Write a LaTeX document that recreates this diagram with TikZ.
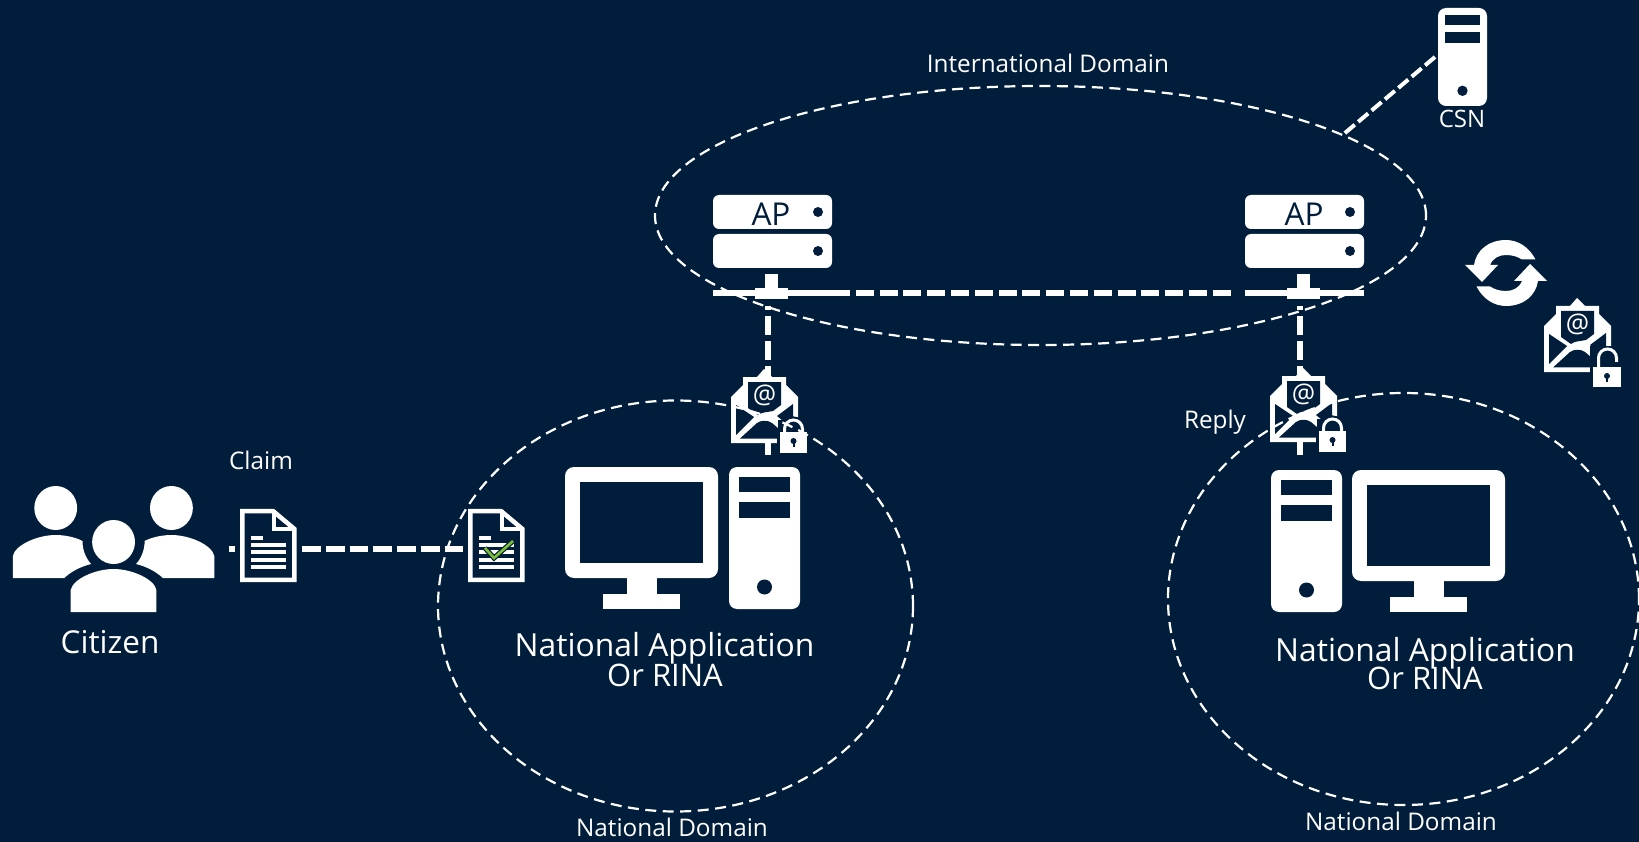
\documentclass[tikz,border=0pt]{standalone}
\usepackage{fontspec}
\setmainfont{Open Sans}
\usetikzlibrary{shapes.geometric}
\definecolor{bgc}{HTML}{001E3C}
\definecolor{chk}{HTML}{7DBE32}
\newcommand{\fsz}[1]{\fontsize{#1}{#1}\selectfont}
\tikzset{
  txtlbl/.style={text=white,inner sep=0pt,anchor=base},
  domainring/.style={ellipse,draw=white,line width=2.2pt,dash pattern=on 11pt off 6.5pt,inner sep=0pt,fill=none},
  thicklink/.style={draw=white,line width=6pt},
  hlink/.style={thicklink,dash pattern=on 18pt off 5.8pt},
  vlink/.style={thicklink,dash pattern=on 19pt off 6pt,dash phase=15pt},
  clink/.style={thicklink,dash pattern=on 18.75pt off 5pt},
  csnlink/.style={draw=white,line width=4pt,dash pattern=on 13pt off 4.5pt},
  monitor/.pic={
    \fill[white,rounded corners=9pt] (0,0) rectangle (153,111);
    \fill[bgc] (15,15) rectangle (138,96);
    \fill[white] (62,105) rectangle (92,130);
    \fill[white] (38,127) rectangle (115,142);
  },
  tower/.pic={
    \fill[white,rounded corners=8pt] (0,0) rectangle (71,142);
    \fill[bgc] (10,10) rectangle (61,25);
    \fill[bgc] (10,35) rectangle (61,51);
    \fill[bgc] (35.5,120) circle (7.5);
  },
  apbox/.pic={
    \fill[white,rounded corners=6pt] (0,0) rectangle (119,34);
    \fill[white,rounded corners=6pt] (0,39) rectangle (119,73);
    \fill[bgc] (105,17) circle (5);
    \fill[bgc] (105,56) circle (5);
    \fill[white] (0,95) rectangle (119,101);
    \fill[white] (#1,79) rectangle ++(13,14);
    \fill[white] (#1-10,93) rectangle ++(33,11);
  },
  docu/.pic={
    \fill[bgc] (0,0) -- (32,0) -- (53,19) -- (53,73) -- (0,73) -- cycle;
    \draw[white,line width=4.5pt,miter limit=3] (2.2,2.2) -- (31,2.2) -- (50.8,20) -- (50.8,70.8) -- (2.2,70.8) -- cycle;
    \draw[white,line width=4.2pt] (32,1) -- (32,20) -- (52,20);
    \fill[white] (10,27) rectangle (21,31);
    \foreach \yy in {34,41,49,56}{\fill[white] (10,\yy) rectangle (43,\yy+4);}
  },
  lockclosed/.pic={
    \draw[bgc,line width=7pt] (53.5,66) -- (53.5,60) arc[start angle=180,end angle=360,radius=9] -- (71.5,66);
    \fill[bgc] (46,61) rectangle (79,87);
    \draw[white,line width=3pt] (53.5,66) -- (53.5,60) arc[start angle=180,end angle=360,radius=9] -- (71.5,66);
    \fill[white] (49,63) rectangle (76,84);
    \fill[bgc] (62.5,72) circle (3);
    \fill[bgc] (61.5,72) rectangle (63.5,78);
  },
  lockopen/.pic={
    \fill[bgc] (46,48) rectangle (80,90);
    \draw[white,line width=3pt] (54.5,70) -- (54.5,60) arc[start angle=180,end angle=360,radius=9] -- (72.5,64);
    \fill[white] (49,69) rectangle (77,89);
    \fill[bgc] (63,78) circle (3);
    \fill[bgc] (62,78) rectangle (64,84);
  },
  mailbase/.pic={
    \fill[white] (0,28) -- (12,16) -- (12,8) -- (26,8) -- (33,0) -- (41,8) -- (55,8) -- (55,16) -- (67,28) -- (67,74) -- (0,74) -- cycle;
    \fill[bgc] (17,13) -- (50,13) -- (50,36) -- (42,42) .. controls (38,43) and (30,43) .. (27,46) -- (17,39) -- cycle;
    \fill[bgc] (5,36) -- (23,48) -- (5,66) -- cycle;
    \fill[bgc] (9,69.5) -- (26,54) .. controls (30,51) and (37,51) .. (41,54) -- (55,66) -- (55,69.5) -- cycle;
    \fill[bgc] (62,35) -- (62,52) -- (52,52) -- (46,47) -- cycle;
    \fill[bgc] (47,51) rectangle (70,76);
    \node[text=white,inner sep=0pt,font=\fsz{26}] (sym) at (33.5,26) {@};
  },
  synchalf/.pic={
    \fill[white] (29.5,-13.5) .. controls (23,-26) and (12,-33) .. (0,-33)
      .. controls (-18,-33) and (-30,-22) .. (-32,-8)
      -- (-41,-8) -- (-24,9) -- (-8,-8) -- (-16,-8)
      .. controls (-13,-15) and (-7,-18) .. (0,-18)
      .. controls (7,-18) and (12,-16) .. (16,-13.5) -- cycle;
  }
}
\begin{document}
\begin{tikzpicture}[x=1pt,y=-1pt]
\useasboundingbox (0,0) rectangle (1639,842);
\fill[bgc] (0,0) rectangle (1639,842);

% named connection points
\coordinate (citizenE) at (229,549);
\coordinate (docOneW) at (235,549);
\coordinate (docOneE) at (302,549);
\coordinate (docTwoW) at (463,549);
\coordinate (apLE) at (832,293);
\coordinate (apRW) at (1234,293);
\coordinate (apLS) at (768,306);
\coordinate (towerLN) at (768,455);
\coordinate (apRS) at (1300,306);
\coordinate (towerRN) at (1300,455);
\coordinate (csnW) at (1435,57);

% connectors
\draw[thicklink] (citizenE) -- (docOneW);
\draw[clink] (docOneE) -- (docTwoW);
\draw[hlink] (apLE) -- (apRW);
\draw[vlink] (apLS) -- (towerLN);
\draw[vlink] (apRS) -- (towerRN);

% citizen group
\begin{scope}[xscale=1.0714]
\fill[white] (52,508) ellipse [x radius=20,y radius=22];
\fill[white] (160,508) ellipse [x radius=20,y radius=22];
\fill[white] (106,542) ellipse [x radius=20,y radius=22];
\fill[white] (12,578) -- (12,556) .. controls (14,545) and (35,535) .. (52,535) .. controls (60,535) and (70,537) .. (77,541) .. controls (77,550) and (80,558) .. (85,564) .. controls (74,567) and (66,572) .. (60,578) -- cycle;
\fill[white] (200,578) -- (200,556) .. controls (198,545) and (177,535) .. (160,535) .. controls (152,535) and (142,537) .. (135,541) .. controls (135,550) and (132,558) .. (127,564) .. controls (138,567) and (146,572) .. (152,578) -- cycle;
\fill[white] (66,612) -- (66,590) .. controls (68,579) and (89,569) .. (106,569) .. controls (123,569) and (144,579) .. (146,590) -- (146,612) -- cycle;
\end{scope}

% documents
\pic[xscale=1.0714] (docA) at (240,509) {docu};
\pic[xscale=1.0714] (docB) at (468,509) {docu};
\draw[bgc,line width=5pt] (485,548) -- (494,558) -- (513,541);
\draw[chk,line width=2.6pt] (485,548) -- (494,558) -- (513,541);

% computers
\pic (monL) at (565,467) {monitor};
\pic (towL) at (729,467) {tower};
\pic (towR) at (1271,470) {tower};
\pic (monR) at (1352,470) {monitor};
\pic[scale=0.69] (towC) at (1438,8) {tower};

% access points
\pic (apL) at (713,195) {apbox=52};
\pic (apR) at (1245,195) {apbox=52};
\node[txtlbl,text=bgc,font=\fsz{31.5}] (apLt) at (771,226) {AP};
\node[txtlbl,text=bgc,font=\fsz{31.5}] (apRt) at (1304,226) {AP};

% mail icons
\pic (mailA) at (731,369) {mailbase};
\pic (lockA) at (731,369) {lockclosed};
\pic (mailB) at (1270,368) {mailbase};
\pic (lockB) at (1270,368) {lockclosed};
\pic (mailC) at (1544,298) {mailbase};
\pic (lockC) at (1544,298) {lockopen};

% sync icon
\pic (syncA) at (1506,273) {synchalf};
\pic[rotate=180] (syncB) at (1506,273) {synchalf};

% domains
\node[domainring,minimum width=771,minimum height=259] (intl) at (1040.5,215.5) {};
\node[domainring,minimum width=475,minimum height=411] (natL) at (675.5,606) {};
\node[domainring,minimum width=471,minimum height=412] (natR) at (1403.5,599) {};
\draw[csnlink] (csnW) -- (intl.15);

% labels
\node[txtlbl,font=\fsz{24.3}] (lblIntl) at (1048,73) {International Domain};
\node[txtlbl,font=\fsz{24}] (lblCsn) at (1462,128) {CSN};
\node[txtlbl,font=\fsz{24.3}] (lblClaim) at (261,469) {Claim};
\node[txtlbl,font=\fsz{31.5}] (lblCit) at (110,653) {Citizen};
\node[txtlbl,font=\fsz{24.3}] (lblReply) at (1215,428) {Reply};
\node[txtlbl,font=\fsz{31.8}] (lblAppL) at (664.5,656) {National Application};
\node[txtlbl,font=\fsz{31}] (lblOrL) at (665,686) {Or RINA};
\node[txtlbl,font=\fsz{31.8}] (lblAppR) at (1425,661) {National Application};
\node[txtlbl,font=\fsz{31}] (lblOrR) at (1425,689) {Or RINA};
\node[txtlbl,font=\fsz{24.3}] (lblNatL) at (672,836) {National Domain};
\node[txtlbl,font=\fsz{24.3}] (lblNatR) at (1401,830) {National Domain};
\end{tikzpicture}
\end{document}
